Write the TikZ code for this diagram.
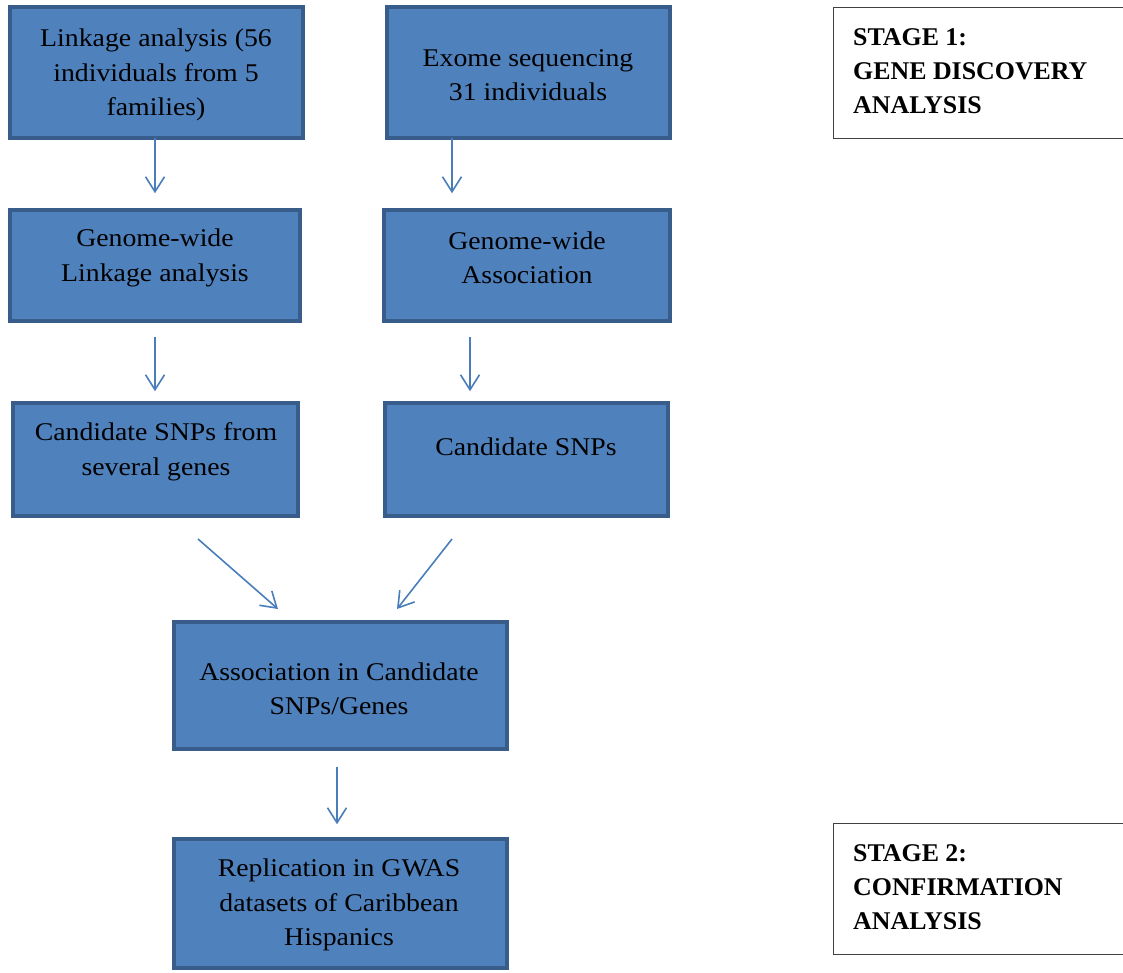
\documentclass[tikz,border=0pt]{standalone}
\usepackage{fontspec}
\setmainfont{Liberation Serif}[FakeStretch=1.09,BoldFeatures={FakeStretch=1.015}]
\usetikzlibrary{arrows.meta}
\definecolor{boxfill}{HTML}{4F81BD}
\definecolor{boxdraw}{HTML}{385D8A}
\definecolor{arrcol}{HTML}{4A7EBB}
\begin{document}
\begin{tikzpicture}[x=1pt,y=-1pt,
  box/.style={draw=boxdraw,fill=boxfill,line width=3.5pt,rectangle,inner sep=0pt},
  txt/.style={align=center,font=\fontsize{25.5}{34.5}\selectfont,inner sep=0pt},
  stagebox/.style={draw=black!75,line width=1.2pt,rectangle,inner sep=0pt},
  stagetxt/.style={align=left,anchor=north west,font=\fontsize{25.5}{34}\selectfont\bfseries,inner sep=0pt},
  arr/.style={draw=arrcol,line width=1.6pt,-{Straight Barb[length=15pt,width=19pt,line width=1.6pt]}}]
\useasboundingbox (0,0) rectangle (1123,973);
% boxes
\node[box,minimum width=293pt,minimum height=131pt] (b1) at (156.5,72.5) {};
\node[box,minimum width=283pt,minimum height=131pt] (b2) at (528.5,72.5) {};
\node[box,minimum width=290pt,minimum height=111pt] (b3) at (155,265.5) {};
\node[box,minimum width=286pt,minimum height=111pt] (b4) at (527,265.5) {};
\node[box,minimum width=285pt,minimum height=113pt] (b5) at (155.5,459.5) {};
\node[box,minimum width=283pt,minimum height=113pt] (b6) at (526.5,459.5) {};
\node[box,minimum width=333pt,minimum height=127pt] (b7) at (340.5,685.5) {};
\node[box,minimum width=333pt,minimum height=129pt] (b8) at (340.5,903.5) {};
% texts
\node[txt] (t1) at (156,75) {Linkage analysis (56\\individuals from 5\\families)};
\node[txt] (t2) at (528,75) {Exome sequencing\\31 individuals};
\node[txt] (t3) at (155,258) {Genome-wide\\Linkage analysis};
\node[txt] (t4) at (527,258) {Genome-wide\\Association};
\node[txt] (t5) at (156,452) {Candidate SNPs from\\several genes};
\node[txt] (t6) at (526,447) {Candidate SNPs};
\node[txt] (t7) at (339,689) {Association in Candidate\\SNPs/Genes};
\node[txt] (t8) at (339,905) {Replication in GWAS\\datasets of Caribbean\\Hispanics};
% stage boxes
\draw[stagebox] (833.6,7.6) rectangle (1130,138.6);
\node[stagetxt] (s1) at (853,28) {STAGE 1:\\GENE DISCOVERY\\ANALYSIS};
\draw[stagebox] (833.6,823.6) rectangle (1130,954.6);
\node[stagetxt] (s2) at (853,844) {STAGE 2:\\CONFIRMATION\\ANALYSIS};
% arrow coordinates
\coordinate (xa) at (155,0);
\coordinate (xb) at (452,0);
\coordinate (xc) at (470,0);
\coordinate (xd) at (337,0);
\coordinate (d1s) at (198,539);
\coordinate (d1e) at (278,609);
\coordinate (d2s) at (452,539);
\coordinate (d2e) at (397,609);
\draw[arr,shorten <=-2pt,shorten >=15pt] (b1.south -| xa) -- (b3.north -| xa);
\draw[arr,shorten <=-2pt,shorten >=15pt] (b2.south -| xb) -- (b4.north -| xb);
\draw[arr,shorten <=14pt,shorten >=10pt] (b3.south -| xa) -- (b5.north -| xa);
\draw[arr,shorten <=14pt,shorten >=10pt] (b4.south -| xc) -- (b6.north -| xc);
\draw[arr] (d1s) -- (d1e);
\draw[arr] (d2s) -- (d2e);
\draw[arr,shorten <=16pt,shorten >=13pt] (b7.south -| xd) -- (b8.north -| xd);
\end{tikzpicture}
\end{document}
